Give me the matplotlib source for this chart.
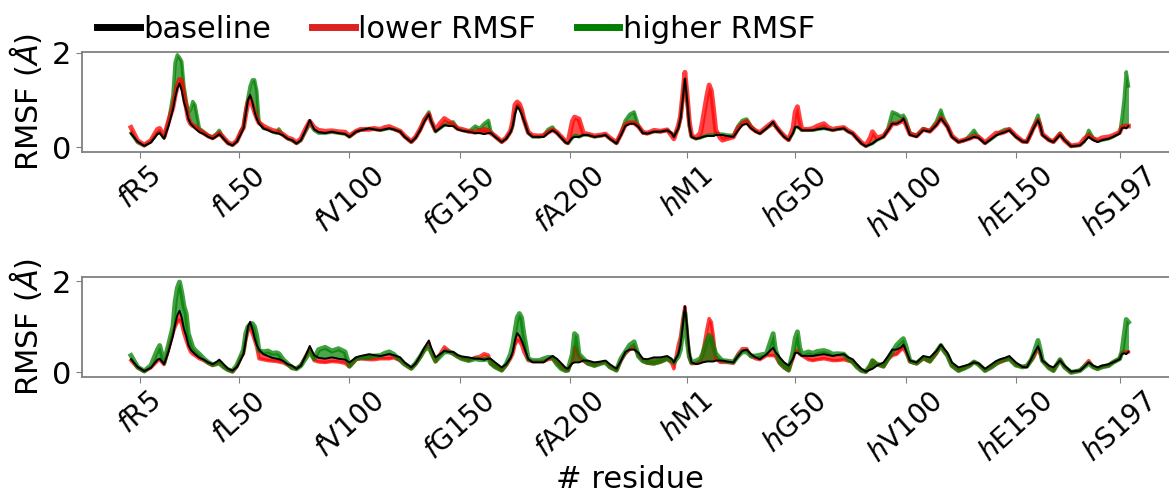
import matplotlib
matplotlib.use("Agg")
import matplotlib.pyplot as plt
from matplotlib.lines import Line2D

# residue index along the concatenated f + h chains
res = [0, 3, 6, 9, 12, 13, 15, 17, 19, 20, 21, 22, 23, 24, 25, 26, 27, 28, 29, 31,
       33, 35, 37, 39, 40, 42, 44, 46, 48, 50, 51, 52, 53, 54, 55, 56, 57, 58, 60, 62,
       64, 66, 67, 69, 71, 73, 75, 77, 79, 81, 83, 85, 88, 91, 94, 97, 99, 102, 104, 108,
       110, 113, 115, 117, 119, 122, 124, 127, 129, 131, 133, 135, 136, 138, 140, 142, 144, 146, 148, 150,
       153, 156, 158, 160, 162, 163, 165, 168, 170, 172, 173, 174, 175, 176, 177, 178, 180, 182, 185, 187,
       189, 191, 193, 195, 197, 198, 200, 201, 202, 203, 205, 207, 210, 213, 215, 217, 220, 222, 224, 226,
       228, 230, 232, 234, 237, 240, 243, 245, 246, 248, 249, 250, 251, 252, 253, 254, 256, 258, 259, 261,
       262, 263, 264, 265, 267, 268, 270, 273, 275, 277, 279, 281, 283, 285, 288, 291, 292, 294, 296, 298,
       300, 301, 302, 303, 304, 307, 309, 311, 314, 316, 318, 320, 323, 325, 327, 329, 331, 333, 335, 336,
       338, 341, 343, 345, 347, 349, 350, 351, 353, 356, 359, 362, 365, 367, 368, 370, 372, 375, 378, 380,
       382, 384, 387, 390, 392, 394, 396, 398, 401, 404, 406, 408, 409, 411, 412, 413, 416, 418, 421, 423,
       426, 430, 432, 434, 436, 438, 440, 443, 445, 448, 449, 450, 451, 452]

baseline = [0.29, 0.12, 0.03, 0.10, 0.28, 0.30, 0.18, 0.45, 0.80, 1.05, 1.25, 1.35, 1.20, 0.95, 0.80, 0.60, 0.50, 0.45, 0.40, 0.32,
            0.28, 0.22, 0.18, 0.24, 0.28, 0.18, 0.08, 0.04, 0.12, 0.30, 0.40, 0.70, 1.00, 1.11, 0.95, 0.75, 0.60, 0.50, 0.40, 0.36,
            0.32, 0.30, 0.29, 0.25, 0.18, 0.15, 0.08, 0.15, 0.35, 0.58, 0.38, 0.32, 0.30, 0.33, 0.30, 0.28, 0.22, 0.33, 0.36, 0.40,
            0.38, 0.36, 0.38, 0.40, 0.38, 0.33, 0.22, 0.11, 0.20, 0.36, 0.55, 0.70, 0.55, 0.33, 0.40, 0.47, 0.45, 0.45, 0.38, 0.35,
            0.33, 0.30, 0.30, 0.28, 0.30, 0.30, 0.22, 0.11, 0.18, 0.32, 0.45, 0.70, 0.86, 0.80, 0.70, 0.57, 0.30, 0.22, 0.22, 0.22,
            0.30, 0.36, 0.30, 0.20, 0.10, 0.08, 0.20, 0.22, 0.22, 0.22, 0.26, 0.26, 0.22, 0.24, 0.26, 0.18, 0.08, 0.25, 0.45, 0.50,
            0.50, 0.43, 0.30, 0.29, 0.33, 0.33, 0.36, 0.30, 0.22, 0.40, 0.60, 1.00, 1.45, 1.00, 0.45, 0.22, 0.18, 0.20, 0.22, 0.24,
            0.24, 0.24, 0.24, 0.26, 0.26, 0.26, 0.24, 0.22, 0.35, 0.47, 0.50, 0.40, 0.33, 0.29, 0.40, 0.54, 0.45, 0.33, 0.22, 0.15,
            0.30, 0.43, 0.43, 0.40, 0.36, 0.36, 0.36, 0.38, 0.40, 0.38, 0.36, 0.38, 0.40, 0.33, 0.29, 0.18, 0.08, 0.02, 0.06, 0.08,
            0.15, 0.22, 0.35, 0.50, 0.50, 0.55, 0.61, 0.50, 0.26, 0.22, 0.36, 0.33, 0.47, 0.61, 0.55, 0.43, 0.22, 0.11, 0.15, 0.18,
            0.22, 0.20, 0.08, 0.18, 0.25, 0.29, 0.32, 0.36, 0.22, 0.12, 0.11, 0.30, 0.40, 0.57, 0.45, 0.26, 0.15, 0.11, 0.26, 0.15,
            0.02, 0.04, 0.12, 0.22, 0.15, 0.11, 0.15, 0.18, 0.22, 0.29, 0.40, 0.42, 0.40, 0.45]

# top panel
top_lower = [0.42, 0.14, 0.05, 0.14, 0.38, 0.40, 0.22, 0.55, 0.85, 1.10, 1.30, 1.44, 1.40, 1.10, 0.86, 0.60, 0.50, 0.46, 0.44, 0.36,
             0.30, 0.24, 0.20, 0.26, 0.30, 0.20, 0.10, 0.06, 0.14, 0.34, 0.42, 0.70, 0.95, 1.04, 0.90, 0.75, 0.62, 0.52, 0.45, 0.40,
             0.36, 0.34, 0.32, 0.27, 0.20, 0.17, 0.10, 0.18, 0.38, 0.55, 0.42, 0.36, 0.34, 0.35, 0.33, 0.32, 0.24, 0.34, 0.38, 0.38,
             0.40, 0.38, 0.42, 0.44, 0.40, 0.34, 0.24, 0.12, 0.22, 0.38, 0.58, 0.70, 0.56, 0.36, 0.50, 0.61, 0.55, 0.48, 0.40, 0.38,
             0.34, 0.32, 0.35, 0.38, 0.35, 0.30, 0.24, 0.12, 0.20, 0.35, 0.55, 0.90, 0.96, 0.92, 0.80, 0.60, 0.32, 0.25, 0.24, 0.25,
             0.32, 0.37, 0.32, 0.22, 0.12, 0.10, 0.55, 0.64, 0.62, 0.60, 0.30, 0.28, 0.24, 0.26, 0.28, 0.20, 0.10, 0.28, 0.48, 0.52,
             0.52, 0.44, 0.32, 0.30, 0.36, 0.34, 0.37, 0.25, 0.18, 0.45, 0.65, 1.10, 1.59, 1.10, 0.55, 0.25, 0.20, 0.30, 0.55, 1.10,
             1.32, 1.20, 0.80, 0.36, 0.20, 0.15, 0.18, 0.22, 0.40, 0.50, 0.55, 0.42, 0.35, 0.31, 0.43, 0.54, 0.46, 0.34, 0.24, 0.16,
             0.40, 0.75, 0.86, 0.60, 0.38, 0.38, 0.40, 0.45, 0.50, 0.42, 0.38, 0.40, 0.42, 0.35, 0.30, 0.20, 0.10, 0.04, 0.20, 0.33,
             0.20, 0.24, 0.36, 0.50, 0.50, 0.55, 0.58, 0.50, 0.28, 0.24, 0.38, 0.34, 0.48, 0.62, 0.56, 0.44, 0.24, 0.12, 0.16, 0.19,
             0.23, 0.22, 0.10, 0.22, 0.30, 0.30, 0.33, 0.38, 0.24, 0.13, 0.12, 0.32, 0.42, 0.57, 0.45, 0.28, 0.16, 0.12, 0.28, 0.15,
             0.03, 0.06, 0.18, 0.25, 0.18, 0.15, 0.20, 0.22, 0.25, 0.32, 0.42, 0.45, 0.45, 0.45]

top_higher = [0.30, 0.10, 0.03, 0.12, 0.30, 0.32, 0.20, 0.55, 1.10, 1.80, 1.96, 1.90, 1.82, 1.30, 1.00, 0.75, 0.80, 0.97, 0.90, 0.40,
              0.33, 0.25, 0.22, 0.30, 0.36, 0.18, 0.08, 0.04, 0.12, 0.36, 0.45, 0.80, 1.05, 1.30, 1.43, 1.43, 1.20, 0.55, 0.40, 0.38,
              0.33, 0.30, 0.39, 0.25, 0.18, 0.14, 0.08, 0.14, 0.32, 0.50, 0.36, 0.30, 0.30, 0.32, 0.30, 0.28, 0.22, 0.33, 0.36, 0.40,
              0.38, 0.36, 0.38, 0.40, 0.38, 0.33, 0.22, 0.11, 0.20, 0.36, 0.60, 0.75, 0.55, 0.33, 0.40, 0.47, 0.50, 0.54, 0.40, 0.36,
              0.33, 0.45, 0.40, 0.50, 0.57, 0.35, 0.22, 0.11, 0.18, 0.32, 0.45, 0.75, 0.88, 0.85, 0.75, 0.60, 0.30, 0.22, 0.22, 0.25,
              0.38, 0.43, 0.30, 0.20, 0.10, 0.08, 0.20, 0.25, 0.25, 0.22, 0.26, 0.26, 0.22, 0.24, 0.26, 0.18, 0.08, 0.30, 0.57, 0.70,
              0.75, 0.45, 0.30, 0.29, 0.33, 0.33, 0.36, 0.30, 0.22, 0.40, 0.60, 1.00, 1.45, 0.95, 0.45, 0.22, 0.18, 0.20, 0.22, 0.25,
              0.26, 0.26, 0.26, 0.30, 0.28, 0.28, 0.26, 0.25, 0.45, 0.57, 0.60, 0.45, 0.35, 0.29, 0.40, 0.50, 0.45, 0.33, 0.22, 0.15,
              0.30, 0.43, 0.43, 0.40, 0.36, 0.36, 0.36, 0.38, 0.40, 0.38, 0.36, 0.38, 0.40, 0.33, 0.29, 0.18, 0.08, 0.02, 0.06, 0.08,
              0.15, 0.22, 0.40, 0.75, 0.71, 0.65, 0.68, 0.60, 0.30, 0.25, 0.40, 0.35, 0.55, 0.79, 0.65, 0.45, 0.22, 0.11, 0.15, 0.25,
              0.36, 0.22, 0.08, 0.18, 0.25, 0.33, 0.38, 0.38, 0.22, 0.12, 0.11, 0.30, 0.45, 0.68, 0.50, 0.26, 0.15, 0.11, 0.30, 0.17,
              0.02, 0.04, 0.12, 0.36, 0.20, 0.13, 0.15, 0.18, 0.22, 0.30, 0.60, 1.00, 1.60, 1.30]

# bottom panel
bottom_lower = [0.26, 0.10, 0.02, 0.10, 0.25, 0.28, 0.17, 0.50, 0.85, 1.00, 1.10, 1.15, 1.05, 0.85, 0.70, 0.56, 0.45, 0.40, 0.37, 0.30,
                0.26, 0.20, 0.15, 0.20, 0.23, 0.12, 0.05, 0.01, 0.12, 0.35, 0.41, 0.70, 0.90, 0.96, 0.85, 0.70, 0.55, 0.30, 0.28, 0.26,
                0.25, 0.24, 0.23, 0.21, 0.16, 0.10, 0.08, 0.15, 0.35, 0.52, 0.26, 0.23, 0.22, 0.24, 0.23, 0.20, 0.12, 0.28, 0.30, 0.28,
                0.28, 0.30, 0.30, 0.30, 0.32, 0.26, 0.18, 0.08, 0.18, 0.33, 0.50, 0.63, 0.45, 0.23, 0.40, 0.56, 0.48, 0.40, 0.35, 0.30,
                0.26, 0.33, 0.35, 0.41, 0.38, 0.19, 0.12, 0.04, 0.15, 0.30, 0.40, 0.60, 0.70, 0.68, 0.60, 0.45, 0.26, 0.24, 0.24, 0.24,
                0.28, 0.30, 0.20, 0.10, 0.04, 0.04, 0.25, 0.56, 0.50, 0.35, 0.25, 0.19, 0.15, 0.20, 0.23, 0.12, 0.04, 0.25, 0.41, 0.50,
                0.56, 0.37, 0.25, 0.20, 0.19, 0.23, 0.30, 0.20, 0.08, 0.60, 0.78, 1.15, 1.44, 0.90, 0.33, 0.19, 0.20, 0.25, 0.40, 0.95,
                1.18, 1.10, 0.75, 0.30, 0.22, 0.22, 0.22, 0.20, 0.40, 0.52, 0.52, 0.35, 0.30, 0.28, 0.37, 0.37, 0.35, 0.19, 0.10, 0.04,
                0.30, 0.45, 0.48, 0.40, 0.37, 0.28, 0.26, 0.28, 0.30, 0.28, 0.26, 0.26, 0.28, 0.25, 0.23, 0.12, 0.04, 0.01, 0.15, 0.26,
                0.18, 0.12, 0.28, 0.37, 0.40, 0.50, 0.52, 0.45, 0.23, 0.19, 0.30, 0.23, 0.41, 0.59, 0.50, 0.37, 0.15, 0.04, 0.10, 0.15,
                0.23, 0.18, 0.04, 0.12, 0.19, 0.22, 0.26, 0.30, 0.16, 0.12, 0.14, 0.26, 0.32, 0.52, 0.40, 0.26, 0.10, 0.04, 0.28, 0.12,
                0.00, 0.04, 0.15, 0.26, 0.12, 0.08, 0.12, 0.15, 0.22, 0.30, 0.44, 0.46, 0.45, 0.45]

bottom_higher = [0.37, 0.12, 0.03, 0.15, 0.50, 0.59, 0.22, 0.60, 1.00, 1.55, 1.85, 1.98, 1.75, 1.45, 1.29, 0.85, 0.70, 0.55, 0.49, 0.40,
                 0.30, 0.22, 0.17, 0.19, 0.20, 0.12, 0.06, 0.03, 0.16, 0.38, 0.50, 0.85, 1.00, 1.05, 1.07, 1.00, 0.80, 0.48, 0.45, 0.47,
                 0.42, 0.43, 0.41, 0.28, 0.19, 0.10, 0.08, 0.15, 0.30, 0.45, 0.30, 0.50, 0.55, 0.47, 0.52, 0.45, 0.14, 0.30, 0.32, 0.33,
                 0.36, 0.37, 0.42, 0.45, 0.40, 0.27, 0.18, 0.09, 0.20, 0.34, 0.50, 0.55, 0.45, 0.25, 0.35, 0.45, 0.45, 0.42, 0.35, 0.30,
                 0.26, 0.30, 0.28, 0.28, 0.30, 0.20, 0.12, 0.05, 0.18, 0.40, 0.60, 0.90, 1.20, 1.29, 1.20, 0.85, 0.30, 0.26, 0.26, 0.30,
                 0.33, 0.33, 0.18, 0.08, 0.04, 0.05, 0.40, 0.85, 0.80, 0.40, 0.30, 0.20, 0.15, 0.20, 0.22, 0.12, 0.05, 0.30, 0.45, 0.60,
                 0.67, 0.35, 0.25, 0.22, 0.20, 0.24, 0.30, 0.25, 0.22, 0.35, 0.50, 0.90, 1.30, 0.70, 0.35, 0.22, 0.25, 0.30, 0.40, 0.70,
                 0.81, 0.75, 0.55, 0.41, 0.30, 0.26, 0.25, 0.23, 0.35, 0.45, 0.45, 0.36, 0.36, 0.38, 0.41, 0.85, 0.50, 0.22, 0.12, 0.05,
                 0.45, 0.75, 0.89, 0.55, 0.40, 0.45, 0.42, 0.46, 0.48, 0.45, 0.40, 0.41, 0.40, 0.30, 0.23, 0.12, 0.04, 0.02, 0.15, 0.26,
                 0.18, 0.14, 0.30, 0.45, 0.60, 0.70, 0.74, 0.60, 0.25, 0.20, 0.32, 0.25, 0.45, 0.59, 0.50, 0.37, 0.15, 0.04, 0.10, 0.15,
                 0.23, 0.18, 0.04, 0.12, 0.19, 0.26, 0.28, 0.30, 0.16, 0.12, 0.14, 0.28, 0.40, 0.70, 0.50, 0.26, 0.10, 0.04, 0.28, 0.12,
                 0.00, 0.04, 0.12, 0.20, 0.12, 0.08, 0.12, 0.15, 0.22, 0.30, 0.44, 0.80, 1.16, 1.10]

tick_pos = [4, 49, 99, 149, 199, 252, 301, 351, 401, 448]
tick_labels = [r'$\mathit{f}$R5', r'$\mathit{f}$L50', r'$\mathit{f}$V100', r'$\mathit{f}$G150',
               r'$\mathit{f}$A200', r'$\mathit{h}$M1', r'$\mathit{h}$G50', r'$\mathit{h}$V100',
               r'$\mathit{h}$E150', r'$\mathit{h}$S197']

RED = 'red'
GREEN = 'green'
SPINE = '#808080'


def draw_series(ax, vals, color, lw):
    ax.fill_between(res, baseline, vals, color=color, alpha=0.7, lw=0)
    ax.plot(res, vals, color=color, lw=lw, alpha=0.75)


def style_axis(ax, ylim):
    ax.set_xlim(-22.2, 474)
    ax.set_ylim(*ylim)
    ax.set_yticks([0, 2])
    ax.set_xticks(tick_pos)
    ax.set_xticklabels(tick_labels, rotation=42, fontsize=20)
    ax.tick_params(axis='y', labelsize=22, length=4, color=SPINE)
    ax.tick_params(axis='x', length=4, color=SPINE)
    ax.set_ylabel(r'RMSF ($\AA$)', fontsize=22, labelpad=6)
    for s in ax.spines.values():
        s.set_color(SPINE)
        s.set_linewidth(1.3)


fig = plt.figure(figsize=(11.69, 4.94), dpi=100)
W, H = 1169, 494
ax1 = fig.add_axes([82 / W, 1 - 152 / H, 1095 / W, 100 / H])
ax2 = fig.add_axes([82 / W, 1 - 377 / H, 1095 / W, 100 / H])

draw_series(ax1, top_higher, GREEN, 2.5)
draw_series(ax1, top_lower, RED, 3.5)
ax1.plot(res, baseline, color='black', lw=1.4)
style_axis(ax1, (-0.1, 2.02))

draw_series(ax2, bottom_lower, RED, 2.5)
draw_series(ax2, bottom_higher, GREEN, 3.5)
ax2.plot(res, baseline, color='black', lw=1.4)
style_axis(ax2, (-0.1, 2.09))
ax2.set_xlabel('# residue', fontsize=22)
ax2.xaxis.set_label_coords(0.5, -0.88)

handles = [Line2D([], [], color='black', lw=5),
           Line2D([], [], color='#dd2222', lw=5),
           Line2D([], [], color='green', lw=5)]
fig.legend(handles, ['baseline', 'lower RMSF', 'higher RMSF'], loc='center left',
           bbox_to_anchor=(0.083, 0.94), ncol=3, frameon=False, fontsize=22,
           handlelength=1.4, handletextpad=0.1, columnspacing=1.35,
           borderpad=0, borderaxespad=0)

fig.savefig('out.png', dpi=100)
